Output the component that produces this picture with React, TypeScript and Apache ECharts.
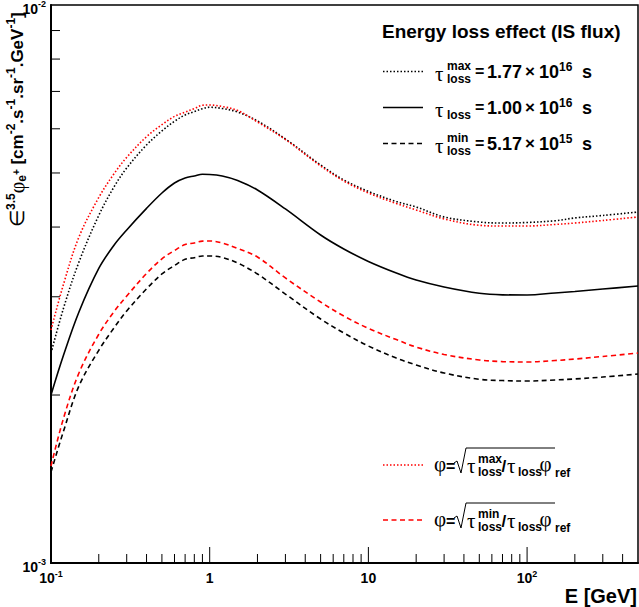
import React, { useEffect, useRef } from "react";
import * as echarts from "echarts";

const ENERGY = [0.1, 0.12, 0.15, 0.2, 0.25, 0.3, 0.4, 0.5, 0.6, 0.7, 0.8, 0.9, 1, 1.2, 1.5, 2, 3, 5, 7, 10, 15, 20, 30, 50, 70, 100, 150, 200, 300, 500];

// eps^3.5 * phi, tau_loss = 1.00e16 s (black solid)
const TAU_REF = [2.001e-3, 2.359e-3, 2.818e-3, 3.372e-3, 3.715e-3, 3.953e-3, 4.321e-3, 4.604e-3, 4.798e-3, 4.898e-3, 4.938e-3, 4.973e-3, 4.97e-3, 4.938e-3, 4.848e-3, 4.661e-3, 4.31e-3, 3.871e-3, 3.654e-3, 3.471e-3, 3.309e-3, 3.215e-3, 3.124e-3, 3.043e-3, 3.024e-3, 3.022e-3, 3.047e-3, 3.066e-3, 3.097e-3, 3.136e-3];
// tau_max = 1.77e16 s (black dotted)
const TAU_MAX = [2.378e-3, 2.864e-3, 3.462e-3, 4.197e-3, 4.725e-3, 5.104e-3, 5.613e-3, 5.947e-3, 6.189e-3, 6.352e-3, 6.439e-3, 6.52e-3, 6.557e-3, 6.524e-3, 6.43e-3, 6.197e-3, 5.753e-3, 5.168e-3, 4.858e-3, 4.634e-3, 4.444e-3, 4.345e-3, 4.17e-3, 4.084e-3, 4.067e-3, 4.076e-3, 4.105e-3, 4.153e-3, 4.196e-3, 4.256e-3];
// tau_min = 5.17e15 s (black dashed)
const TAU_MIN = [1.456e-3, 1.724e-3, 2.076e-3, 2.405e-3, 2.641e-3, 2.829e-3, 3.1e-3, 3.296e-3, 3.413e-3, 3.502e-3, 3.525e-3, 3.55e-3, 3.55e-3, 3.528e-3, 3.448e-3, 3.296e-3, 3.034e-3, 2.737e-3, 2.584e-3, 2.448e-3, 2.33e-3, 2.264e-3, 2.19e-3, 2.134e-3, 2.123e-3, 2.119e-3, 2.128e-3, 2.137e-3, 2.154e-3, 2.181e-3];
// sqrt(tau_max/tau) * phi_ref (red dotted)
const SCALED_MAX = [2.616e-3, 3.162e-3, 3.839e-3, 4.519e-3, 4.987e-3, 5.333e-3, 5.808e-3, 6.103e-3, 6.315e-3, 6.425e-3, 6.524e-3, 6.613e-3, 6.619e-3, 6.578e-3, 6.47e-3, 6.171e-3, 5.741e-3, 5.147e-3, 4.838e-3, 4.604e-3, 4.409e-3, 4.292e-3, 4.136e-3, 4.029e-3, 4.017e-3, 4.017e-3, 4.043e-3, 4.067e-3, 4.11e-3, 4.17e-3];
// sqrt(tau_min/tau) * phi_ref (red dashed)
const SCALED_MIN = [1.492e-3, 1.819e-3, 2.19e-3, 2.57e-3, 2.823e-3, 3.009e-3, 3.302e-3, 3.509e-3, 3.631e-3, 3.721e-3, 3.746e-3, 3.774e-3, 3.777e-3, 3.746e-3, 3.661e-3, 3.535e-3, 3.242e-3, 2.936e-3, 2.771e-3, 2.633e-3, 2.514e-3, 2.438e-3, 2.364e-3, 2.311e-3, 2.296e-3, 2.292e-3, 2.306e-3, 2.32e-3, 2.345e-3, 2.378e-3];

const X_MIN = 0.1;
const X_MAX = 500;
const Y_MIN = 1e-3;
const Y_MAX = 1e-2;
const X_MAJOR_TICKS = [1, 10, 100];
const X_MINOR_TICKS = [0.2, 0.3, 0.4, 0.5, 0.6, 0.7, 0.8, 0.9, 2, 3, 4, 5, 6, 7, 8, 9, 20, 30, 40, 50, 60, 70, 80, 90, 200, 300, 400];
const Y_MINOR_TICKS = [0.002, 0.003, 0.004, 0.005, 0.006, 0.007, 0.008, 0.009];

const SANS = '"Liberation Sans", Arial, Helvetica, sans-serif';
const SERIF = '"Liberation Serif", "Times New Roman", serif';
const bold = (px: number) => `bold ${px}px ${SANS}`;
const greek = (px: number) => `${px}px ${SERIF}`;

const DOT = [1.5, 2];
const DASH = [5, 3.5];
const RED = "#ff0000";

const txt = (x: number, y: number, text: string, font: string, align = "left") => ({
    type: "text",
    x,
    y,
    silent: true,
    z: 10,
    style: { text, font, fill: "#000", align, verticalAlign: "middle", textAlign: align, textVerticalAlign: "middle" },
});

const sample = (y: number, color: string, dash: number[] | null) => ({
    type: "line",
    silent: true,
    z: 10,
    shape: { x1: 383, y1: y, x2: 423, y2: y },
    style: { stroke: color, lineWidth: 1.6, lineDash: dash ?? undefined },
});

// power-of-ten tick labels, with the exponent raised
const powerLabel = (v: number) => {
    const l = Math.log10(v);
    const e = Math.round(l);
    if (Math.abs(l - e) > 1e-6) return "";
    if (e === 0) return "{m|1}";
    if (e === 1) return "{m|10}";
    return `{m|10}{s|${e}}`;
};

const labelRich = {
    m: { fontSize: 14, fontWeight: "bold", fontFamily: SANS, color: "#000", lineHeight: 18 },
    s: { fontSize: 9, fontWeight: "bold", fontFamily: SANS, color: "#000", lineHeight: 8, verticalAlign: "top" },
};

// lays a run of pieces along one baseline, returning text elements
function run(pieces: { t: string; f: string; dy?: number }[]) {
    const ctx = document.createElement("canvas").getContext("2d")!;
    let x = 0;
    return pieces.map((p) => {
        ctx.font = p.f;
        const el = txt(x, p.dy ?? 0, p.t, p.f);
        x += ctx.measureText(p.t).width;
        return el;
    });
}

function buildGraphic() {
    const els: any[] = [];

    // upper legend
    els.push(txt(382, 31.5, "Energy loss effect (IS flux)", bold(19)));
    const rows = [
        { y: 71.5, sup: "max", num: "1.77", exp: "16", dash: DOT },
        { y: 107.5, sup: "", num: "1.00", exp: "16", dash: null },
        { y: 143.5, sup: "min", num: "5.17", exp: "15", dash: DASH },
    ];
    rows.forEach((r) => {
        els.push(sample(r.y, "#000", r.dash));
        els.push(txt(435, r.y + 2, "τ", greek(21)));
        if (r.sup) els.push(txt(447, r.y - 5.5, r.sup, bold(12)));
        els.push(txt(447, r.y + 7.5, "loss", bold(12)));
        els.push(txt(475, r.y, "=", bold(16)));
        els.push(txt(487, r.y, r.num, bold(18)));
        els.push(txt(525, r.y, "×", bold(17)));
        els.push(txt(539, r.y, "10", bold(18)));
        els.push(txt(559, r.y - 5, r.exp, bold(12)));
        els.push(txt(582, r.y, "s", bold(18)));
    });

    // lower legend
    const scaled = [
        { y: 465, sup: "max", dash: DOT },
        { y: 520, sup: "min", dash: DASH },
    ];
    scaled.forEach((r) => {
        const b = r.y;
        els.push(sample(b, RED, r.dash));
        els.push(txt(434, b - 1, "φ", greek(21)));
        els.push(txt(446, b + 1, "=", bold(16)));
        els.push({
            type: "polyline",
            silent: true,
            z: 10,
            shape: { points: [[454, b - 2], [457, b - 4], [461, b + 8], [466, b - 17], [555, b - 17]] },
            style: { stroke: "#000", lineWidth: 1, fill: null },
        });
        els.push(txt(467, b + 1, "τ", greek(21)));
        els.push(txt(478, b - 6, r.sup, bold(12)));
        els.push(txt(478, b + 7, "loss", bold(12)));
        els.push(txt(501.5, b + 1, "/", bold(17)));
        els.push(txt(507, b + 1, "τ", greek(21)));
        els.push(txt(518, b + 7, "loss", bold(12)));
        els.push(txt(539.5, b - 1, "φ", greek(21)));
        els.push(txt(555, b + 7.5, "ref", bold(12)));
    });

    // axis titles
    els.push(txt(637, 596, "E [GeV]", bold(20), "right"));
    els.push({
        type: "group",
        x: 17,
        y: 227,
        rotation: Math.PI / 2,
        silent: true,
        children: run([
            { t: "∈", f: greek(20) },
            { t: "3.5", f: bold(12), dy: -6.5 },
            { t: "φ", f: greek(20) },
            { t: "e", f: bold(12), dy: 5 },
            { t: "+", f: bold(10), dy: -1 },
            { t: " [cm", f: bold(17) },
            { t: "-2", f: bold(12), dy: -6.5 },
            { t: ".s", f: bold(17) },
            { t: "-1", f: bold(12), dy: -6.5 },
            { t: ".sr", f: bold(17) },
            { t: "-1", f: bold(12), dy: -6.5 },
            { t: ".GeV", f: bold(17) },
            { t: "-1", f: bold(12), dy: -6.5 },
            { t: "]", f: bold(17) },
        ]),
    });
    return els;
}

const lineSeries = (name: string, values: number[], color: string, dash: number[] | "solid") => ({
    name,
    type: "line",
    data: ENERGY.map((e, i) => [e, values[i]]),
    showSymbol: false,
    symbol: "none",
    smooth: 0.35,
    clip: true,
    lineStyle: { color, width: 1.6, type: dash, cap: "butt" },
    z: 3,
});

export default function App() {
    const chartRef = useRef<HTMLDivElement | null>(null);

    useEffect(() => {
        if (!chartRef.current) return;
        const chart = echarts.init(chartRef.current, null, { renderer: "svg" });

        const tickData = [
            ...X_MINOR_TICKS.map((v) => [v, Y_MIN, 9, 0]),
            ...X_MAJOR_TICKS.map((v) => [v, Y_MIN, 16, 0]),
            ...Y_MINOR_TICKS.map((v) => [X_MIN, v, 9, 1]),
        ];

        const option: any = {
            animation: false,
            backgroundColor: "#fff",
            grid: {
                left: 51,
                right: 1,
                top: 5,
                bottom: 44,
                show: true,
                borderColor: "#000",
                borderWidth: 1.5,
                containLabel: false,
                outerBoundsMode: "none",
            },
            xAxis: {
                type: "log",
                logBase: 10,
                min: X_MIN,
                max: X_MAX,
                axisLine: { show: true, lineStyle: { color: "#000", width: 2 } },
                axisTick: { show: false },
                splitLine: { show: false },
                minorTick: { show: false },
                axisLabel: { formatter: powerLabel, rich: labelRich, margin: 6, showMinLabel: true, showMaxLabel: true, hideOverlap: false },
            },
            yAxis: {
                type: "log",
                logBase: 10,
                min: Y_MIN,
                max: Y_MAX,
                axisLine: { show: true, lineStyle: { color: "#000", width: 2 } },
                axisTick: { show: false },
                splitLine: { show: false },
                minorTick: { show: false },
                axisLabel: {
                    formatter: powerLabel,
                    rich: labelRich,
                    margin: 5,
                    padding: [7, 0, 0, 0],
                    showMinLabel: true,
                    showMaxLabel: true,
                    hideOverlap: false,
                },
            },
            series: [
                lineSeries("tau_max", TAU_MAX, "#000", DOT),
                lineSeries("tau_ref", TAU_REF, "#000", "solid"),
                lineSeries("tau_min", TAU_MIN, "#000", DASH),
                lineSeries("scaled_max", SCALED_MAX, RED, DOT),
                lineSeries("scaled_min", SCALED_MIN, RED, DASH),
                {
                    // ROOT-style inner ticks
                    type: "custom",
                    silent: true,
                    clip: false,
                    z: 5,
                    data: tickData,
                    renderItem: (_params: any, api: any) => {
                        const p = api.coord([api.value(0), api.value(1)]);
                        const len = api.value(2);
                        const vertical = api.value(3) === 0;
                        return {
                            type: "line",
                            shape: {
                                x1: p[0],
                                y1: p[1],
                                x2: vertical ? p[0] : p[0] + len,
                                y2: vertical ? p[1] - len : p[1],
                            },
                            style: { stroke: "#000", lineWidth: 1 },
                        };
                    },
                },
            ],
            graphic: buildGraphic(),
        };

        chart.setOption(option);
        return () => chart.dispose();
    }, []);

    return (
        <div
            ref={chartRef}
            style={{ position: "fixed", left: 0, top: 0, width: 639, height: 607, background: "#fff" }}
        />
    );
}
